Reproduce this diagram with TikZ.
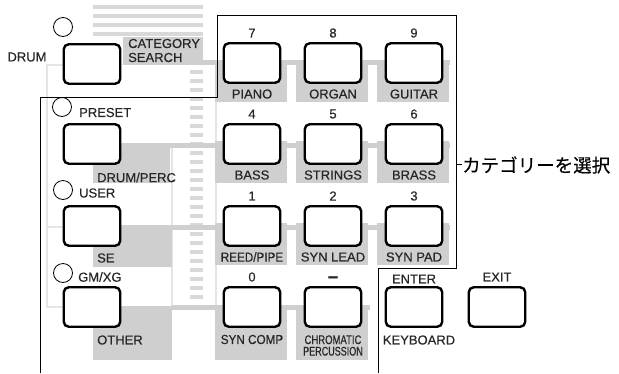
\documentclass[tikz,border=0pt]{standalone}
\usepackage{fontspec}
\usepackage{graphicx}
\setmainfont{Liberation Sans}
\newfontfamily\keyfont{Liberation Sans}[FakeBold=0.4]
\newfontfamily\jpfont{Noto Sans CJK JP}[FakeBold=0.3]

\tikzset{
  btn/.style={draw=black, line width=2.4pt, rounded corners=5pt, fill=white,
    minimum width=56.5pt, minimum height=39.5pt, inner sep=0pt},
  led/.style={circle, draw=black, line width=0.8pt, fill=white,
    minimum size=19pt, inner sep=0pt},
  lbl/.style={font=\keyfont\fontsize{13}{14}\selectfont, text=black!85, inner sep=0pt},
  band/.style={fill=gray!38, draw=none},
  rail/.style={draw=gray!20, line width=2pt},
  frame/.style={draw=black, line width=0.8pt},
}

\begin{document}
\begin{tikzpicture}[x=1pt, y=-1pt]
  \useasboundingbox (0,0) rectangle (619,373);

  % Grey stripes and dashes
  \foreach \y in {5,14,23,32}
    \fill[gray!30] (93,\y) rectangle (203,\y+4);
  \foreach \k in {0,...,25}
    \fill[gray!30] (190,70+9*\k) rectangle (203,74+9*\k);

  % Light rails
  \draw[rail] (63,65) -- (47,65) -- (47,307) -- (63,307);
  \draw[rail] (47,227) -- (63,227);
  \draw[rail] (172,148) -- (172,306);
  \draw[rail] (216,65) -- (216,306);

  % Row bands
  \fill[band] (123,37) rectangle (203,65);
  \fill[band] (203,60) rectangle (450,65);
  \fill[band] (93,143) rectangle (170,183);
  \fill[band] (170,143) rectangle (450,148);
  \fill[band] (93,225) rectangle (172,267);
  \fill[band] (172,225) rectangle (450,230);
  \fill[band] (93,306) rectangle (172,360);
  \fill[band] (172,305) rectangle (370,310);
  \foreach \cx in {252,333,414}
    \foreach \cy in {63,144,226}
      \fill[band] (\cx-37,\cy-3) rectangle (\cx+35,\cy+39);
  \foreach \cx in {252,333}
    \fill[band] (\cx-37,305) rectangle (\cx+35,360);

  % Left column
  \node[btn] (drum) at (92,64) {};
  \node[btn] (preset) at (92,144) {};
  \node[btn] (user) at (92,226) {};
  \node[btn] (gmxg) at (92,307) {};
  \node[led] (drumled) at (63,27) {};
  \node[led] (presetled) at (62,107) {};
  \node[led] (userled) at (63,190) {};
  \node[led] (gmxgled) at (63,273) {};

  \node[lbl] (drumlbl) at (27,57) {DRUM};
  \node[lbl, align=left, anchor=west] (catsearch) at (128,50.5) {CATEGORY\\SEARCH};
  \node[lbl, anchor=west] (presetlbl) at (79,112.5) {PRESET};
  \node[lbl, anchor=west] (userlbl) at (79,193) {USER};
  \node[lbl, anchor=west] (gmxglbl) at (78,277) {GM/XG};
  \node[lbl, anchor=west] (drumperc) at (97,177.5) {DRUM/PERC};
  \node[lbl, anchor=west] (se) at (97,258) {SE};
  \node[lbl, anchor=west] (other) at (97,340) {OTHER};

  % Number keys
  \foreach \nm/\num/\lab/\cx/\cy in {piano/7/PIANO/252/63, organ/8/ORGAN/333/63,
      guitar/9/GUITAR/414/63, bass/4/BASS/252/144, strings/5/STRINGS/333/144,
      brass/6/BRASS/414/144, synlead/2/SYN LEAD/333/226, synpad/3/SYN PAD/414/226}
  {
    \node[btn] (\nm) at (\cx,\cy) {};
    \node[lbl] (\nm num) at (\cx,\cy-30) {\num};
    \node[lbl] (\nm lbl) at (\cx,\cy+31) {\lab};
  }
  \node[btn] (reed) at (252,226) {};
  \node[lbl] (reednum) at (252,196) {1};
  \node[lbl] (reedlbl) at (252,257) {\scalebox{0.9}[1]{REED/PIPE}};
  \node[btn] (syncomp) at (252,307) {};
  \node[lbl] (syncompnum) at (252,277) {0};
  \node[lbl] (syncomplbl) at (252,339.5) {\scalebox{0.9}[1]{SYN COMP}};
  \node[btn] (chromatic) at (333,307) {};
  \node[lbl, font=\keyfont\bfseries\fontsize{19}{19}\selectfont] (minus) at (333,279.5) {–};
  \node[lbl, align=center, font=\keyfont\fontsize{12.5}{11.5}\selectfont] (chromlbl) at (333,345.5)
    {\scalebox{0.76}[1]{CHROMATIC}\\\scalebox{0.72}[1]{PERCUSSION}};

  % Enter and exit
  \node[btn] (enter) at (414,307) {};
  \node[lbl] (enterlbl) at (414,279) {ENTER};
  \node[lbl] (keyboard) at (419,340) {KEYBOARD};
  \node[btn] (exit) at (497,307) {};
  \node[lbl] (exitlbl) at (497,277) {EXIT};

  % Frame and callout
  \draw[frame] (40,373) -- (40,97) -- (217,97) -- (217,15) -- (456,15)
    -- (456,268) -- (378,268) -- (378,373);
  \coordinate (tick) at (456,164);
  \node[lbl, font=\jpfont\fontsize{18.5}{18.5}\selectfont, text=black, anchor=west] (catsel) at (462,165) {カテゴリーを選択};
  \draw[frame] (tick) -- (catsel.west |- tick);
\end{tikzpicture}
\end{document}
